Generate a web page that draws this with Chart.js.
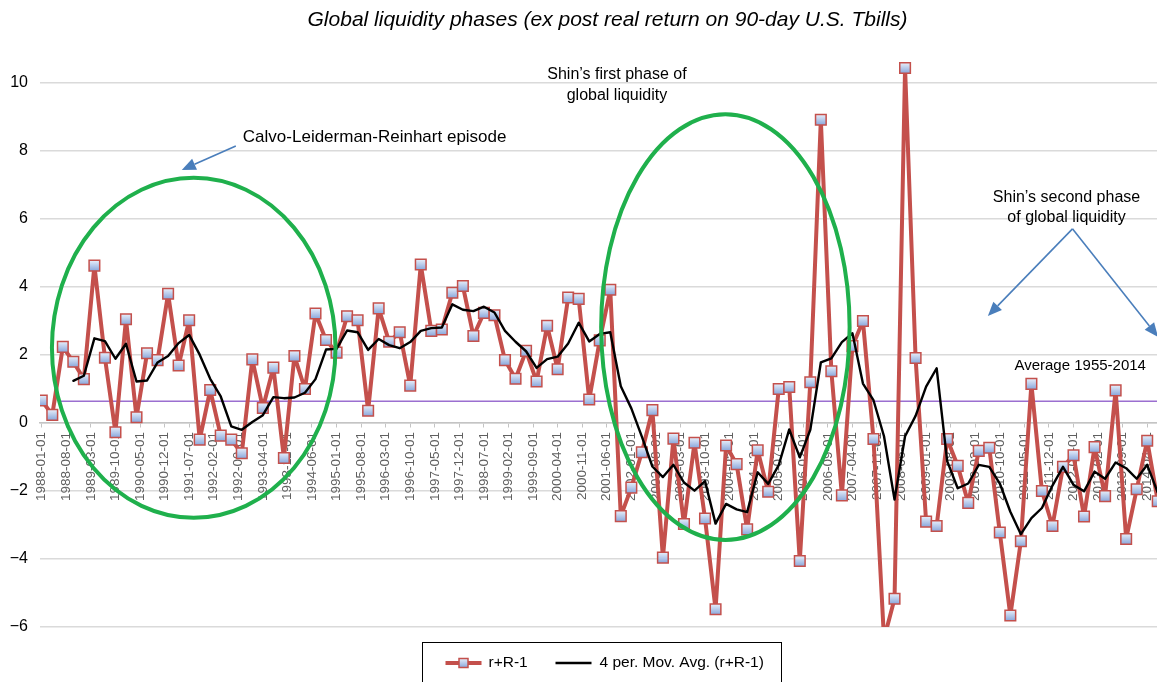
<!DOCTYPE html>
<html><head><meta charset="utf-8">
<script src="https://cdn.jsdelivr.net/npm/chart.js@4.4.1/dist/chart.umd.min.js"></script>
<style>
html,body{margin:0;padding:0;background:#fff;overflow:hidden;width:1157px;height:682px;}
#wrap{position:absolute;left:0;top:0;width:1172px;height:682px;}
</style></head><body>
<div id="wrap"><canvas id="c" width="1172" height="682"></canvas></div>
<script>
// ---------------- data ----------------
const startYear = 1988; // first quarter: 1988-01-01, quarterly observations
const realReturn = [
  0.66, 0.24, 2.24, 1.8, 1.29, 4.63, 1.92, -0.27, 3.05, 0.17,
  2.05, 1.85, 3.8, 1.69, 3.02, -0.49, 0.97, -0.37, -0.49, -0.89,
  1.87, 0.44, 1.63, -1.03, 1.97, 1.0, 3.22, 2.44, 2.07, 3.14,
  3.02, 0.36, 3.37, 2.39, 2.67, 1.1, 4.66, 2.71, 2.75, 3.83,
  4.03, 2.56, 3.24, 3.17, 1.85, 1.3, 2.12, 1.22, 2.86, 1.58,
  3.69, 3.65, 0.69, 2.43, 3.92, -2.74, -1.9, -0.86, 0.38, -3.96,
  -0.46, -2.97, -0.58, -2.81, -5.48, -0.66, -1.21, -3.13, -0.8, -2.02,
  1.0, 1.06, -4.06, 1.2, 8.92, 1.52, -2.13, 2.26, 3.0, -0.47,
  -6.35, -5.17, 10.44, 1.91, -2.9, -3.03, -0.47, -1.26, -2.35, -0.82,
  -0.73, -3.22, -5.66, -3.48, 1.15, -2.0, -3.03, -1.29, -0.95, -2.75,
  -0.71, -2.15, 0.96, -3.41, -1.95, -0.52, -2.3
];
const movingAvg = [
  null, null, null,
  1.24, 1.39, 2.49, 2.41, 1.89, 2.33, 1.22, 1.25, 1.78, 1.97,
  2.35, 2.59, 2.01, 1.30, 0.78, -0.10, -0.20, 0.03, 0.23, 0.76,
  0.73, 0.75, 0.89, 1.29, 2.16, 2.18, 2.72, 2.67, 2.15, 2.47,
  2.29, 2.20, 2.38, 2.71, 2.79, 2.81, 3.49, 3.33, 3.29, 3.42,
  3.25, 2.71, 2.39, 2.11, 1.62, 1.88, 1.95, 2.34, 2.95, 2.40,
  2.62, 2.67, 1.08, 0.43, -0.40, -1.28, -1.59, -1.23, -1.75, -1.99,
  -1.71, -2.96, -2.38, -2.54, -2.62, -1.45, -1.79, -1.24, -0.19, -1.01,
  -0.20, 1.78, 1.90, 2.38, 2.64, 1.16, 0.67, -0.39, -2.25, -0.39,
  0.21, 1.07, 1.61, -1.12, -1.92, -1.78, -1.23, -1.29, -1.78, -2.61,
  -3.27, -2.80, -2.50, -1.84, -1.29, -1.82, -2.01, -1.43, -1.64, -1.16,
  -1.33, -1.64, -1.23, -2.05
];
const averageValue = 0.64;                 // Average 1955-2014
const averageSpan = ['1988-06-01', '2014-10-01'];
const yTickValues = [-6, -4, -2, 0, 2, 4, 6, 8, 10];
const tickLabels = [
  '1988-01-01','1988-08-01','1989-03-01','1989-10-01','1990-05-01','1990-12-01','1991-07-01',
  '1992-02-01','1992-09-01','1993-04-01','1993-11-01','1994-06-01','1995-01-01','1995-08-01',
  '1996-03-01','1996-10-01','1997-05-01','1997-12-01','1998-07-01','1999-02-01','1999-09-01',
  '2000-04-01','2000-11-01','2001-06-01','2002-01-01','2002-08-01','2003-03-01','2003-10-01',
  '2004-05-01','2004-12-01','2005-07-01','2006-02-01','2006-09-01','2007-04-01','2007-11-01',
  '2008-06-01','2009-01-01','2009-08-01','2010-03-01','2010-10-01','2011-05-01','2011-12-01',
  '2012-07-01','2013-02-01','2013-09-01','2014-04-01'
];
const seriesLabels = ['r+R-1', '4 per. Mov. Avg. (r+R-1)'];
const titleText = 'Global liquidity phases (ex post real return on 90-day U.S. Tbills)';

// ---------------- helpers ----------------
const monthIndex = s => (parseInt(s.slice(0, 4), 10) - startYear) * 12 + parseInt(s.slice(5, 7), 10) - 1;
const quarterDates = realReturn.map((_, i) => {
  const m = i * 3, y = startYear + Math.floor(m / 12), mm = (m % 12) + 1;
  return y + '-' + String(mm).padStart(2, '0') + '-01';
});
const quarterMonths = quarterDates.map(monthIndex);
const tickMonths = tickLabels.map(monthIndex);
const labelByMonth = {};
tickLabels.forEach((l, i) => { labelByMonth[tickMonths[i]] = l; });

const FONT = '"Liberation Sans", Arial, sans-serif';
const RED = '#c4504c';

function markerFill(ctx, y, h) {
  if (!isFinite(y)) return '#b8cce4';
  const g = ctx.createLinearGradient(0, y - h, 0, y + h);
  g.addColorStop(0, '#e6edf9');
  g.addColorStop(1, '#8aa8dc');
  return g;
}

// ---------------- annotations (data coordinates: month index, value) ----------------
const ellipses = [
  { cx: 43.3, cy: 2.21, rx: 40.4, ry: 5.0 },
  { cx: 194.8, cy: 2.82, rx: 35.4, ry: 6.26 }
];
const arrows = [
  { from: [55.3, 8.15], to: [39.9, 7.44] },
  { from: [293.7, 5.71], to: [269.6, 3.15] },
  { from: [293.7, 5.71], to: [318.1, 2.53] }
];
const notes = [
  { text: 'Calvo-Leiderman-Reinhart episode', at: [57.3, 8.41], align: 'left', size: 17 },
  { text: 'Shin\u2019s first phase of', at: [163.9, 10.24], align: 'center', size: 16 },
  { text: 'global liquidity', at: [163.9, 9.62], align: 'center', size: 16 },
  { text: 'Shin\u2019s second phase', at: [292.0, 6.63], align: 'center', size: 16 },
  { text: 'of global liquidity', at: [292.0, 6.04], align: 'center', size: 16 },
  { text: 'Average 1955-2014', at: [295.9, 1.68], align: 'center', size: 15 }
];

const annotPlugin = {
  id: 'annot',
  afterDatasetsDraw(chart) {
    const { ctx } = chart, xs = chart.scales.x, ys = chart.scales.y;
    const px = m => xs.getPixelForValue(m), py = v => ys.getPixelForValue(v);
    ctx.save();
    ctx.strokeStyle = '#1fb04c'; ctx.lineWidth = 4;
    ellipses.forEach(e => {
      ctx.beginPath();
      ctx.ellipse(px(e.cx), py(e.cy), Math.abs(px(e.cx + e.rx) - px(e.cx)), Math.abs(py(e.cy + e.ry) - py(e.cy)), 0, 0, Math.PI * 2);
      ctx.stroke();
    });
    ctx.strokeStyle = '#4a7ebb'; ctx.fillStyle = '#4a7ebb'; ctx.lineWidth = 1.6;
    arrows.forEach(a => {
      const x1 = px(a.from[0]), y1 = py(a.from[1]), x2 = px(a.to[0]), y2 = py(a.to[1]);
      const ang = Math.atan2(y2 - y1, x2 - x1), hl = 14, hw = 6;
      const bx = x2 - hl * Math.cos(ang), by = y2 - hl * Math.sin(ang);
      ctx.beginPath(); ctx.moveTo(x1, y1); ctx.lineTo(bx, by); ctx.stroke();
      ctx.beginPath(); ctx.moveTo(x2, y2);
      ctx.lineTo(bx + hw * Math.sin(ang), by - hw * Math.cos(ang));
      ctx.lineTo(bx - hw * Math.sin(ang), by + hw * Math.cos(ang));
      ctx.closePath(); ctx.fill();
    });
    ctx.fillStyle = '#000'; ctx.textBaseline = 'middle';
    notes.forEach(n => {
      ctx.font = n.size + 'px ' + FONT;
      ctx.textAlign = n.align;
      ctx.fillText(n.text, px(n.at[0]), py(n.at[1]));
    });
    ctx.restore();
  },
  afterDraw(chart) {
    const { ctx, chartArea } = chart;
    ctx.save();
    // title
    ctx.fillStyle = '#000'; ctx.textAlign = 'center'; ctx.textBaseline = 'middle';
    ctx.font = 'italic 21px ' + FONT;
    ctx.fillText(titleText, (chartArea.left + chartArea.right) / 2 + 6, 20);
    // legend box below the plot
    const w = 359, cx = (chartArea.left + chartArea.right) / 2;
    const left = Math.round(cx - w / 2) + 0.5, top = chartArea.bottom + 15.5, ym = top + 20.5;
    ctx.strokeStyle = '#000'; ctx.lineWidth = 1;
    ctx.strokeRect(left, top, w, 60);
    const ds = chart.data.datasets;
    ctx.strokeStyle = ds[1].borderColor; ctx.lineWidth = ds[1].borderWidth;
    ctx.beginPath(); ctx.moveTo(left + 23, ym); ctx.lineTo(left + 59, ym); ctx.stroke();
    const mx = left + 41, s = 9;
    ctx.fillStyle = markerFill(ctx, ym, s / 2);
    ctx.fillRect(mx - s / 2, ym - s / 2, s, s);
    ctx.lineWidth = 1.5; ctx.strokeRect(mx - s / 2, ym - s / 2, s, s);
    ctx.fillStyle = '#000'; ctx.font = '15.5px ' + FONT; ctx.textBaseline = 'middle'; ctx.textAlign = 'left';
    ctx.fillText(ds[1].label, left + 66, ym);
    ctx.strokeStyle = ds[0].borderColor; ctx.lineWidth = ds[0].borderWidth;
    ctx.beginPath(); ctx.moveTo(left + 133, ym); ctx.lineTo(left + 169, ym); ctx.stroke();
    ctx.fillText(ds[0].label, left + 177, ym);
    ctx.restore();
  }
};

// ---------------- chart ----------------
new Chart(document.getElementById('c'), {
  type: 'line',
  data: {
    datasets: [
      {
        label: seriesLabels[1],
        data: movingAvg.map((v, i) => ({ x: quarterMonths[i], y: v })).filter(p => p.y !== null),
        borderColor: '#000', borderWidth: 2.4, pointRadius: 0, tension: 0, order: 0,
        borderJoinStyle: 'round', borderCapStyle: 'round'
      },
      {
        label: seriesLabels[0],
        data: realReturn.map((v, i) => ({ x: quarterMonths[i], y: v })),
        borderColor: RED, borderWidth: 4, tension: 0, order: 1,
        borderJoinStyle: 'round',
        pointStyle: 'rect', pointRadius: 7.5, pointBorderWidth: 1.5, pointBorderColor: RED,
        pointBackgroundColor: c => {
          if (!c.parsed || !c.chart.scales || !c.chart.scales.y) return '#b8cce4';
          const y = c.chart.scales.y.getPixelForValue(c.parsed.y);
          return markerFill(c.chart.ctx, y, 5);
        }
      },
      {
        label: 'Average 1955-2014',
        data: averageSpan.map(d => ({ x: monthIndex(d), y: averageValue })),
        borderColor: '#9b6fd0', borderWidth: 1.6, pointRadius: 0, tension: 0, order: 2
      }
    ]
  },
  options: {
    responsive: false, animation: false, devicePixelRatio: 1,
    layout: { padding: { left: 0, right: 5, top: 49, bottom: 55 } },
    plugins: {
      legend: { display: false }, tooltip: { enabled: false }, title: { display: false }
    },
    scales: {
      x: {
        type: 'linear', min: -0.5, max: 319.5,
        position: { y: 0 },
        afterBuildTicks: s => { s.ticks = tickMonths.map(v => ({ value: v })); },
        afterFit: s => { s.paddingLeft = 0; s.paddingRight = 0; },
        ticks: {
          autoSkip: false, minRotation: 90, maxRotation: 90, padding: 5,
          color: '#5f5f5f', font: { family: FONT, size: 13.5 },
          callback: v => labelByMonth[v] || ''
        },
        grid: { drawOnChartArea: false, drawTicks: true, tickLength: 4, color: '#c4c4c4' },
        border: { display: true, color: '#c4c4c4', width: 1.5 }
      },
      y: {
        type: 'linear', min: -6, max: 11,
        afterBuildTicks: s => { s.ticks = yTickValues.map(v => ({ value: v })); },
        afterFit: s => { s.width = 40; s.paddingTop = 0; s.paddingBottom = 0; },
        ticks: {
          color: '#000', padding: 12, font: { family: FONT, size: 16 },
          callback: v => (v < 0 ? '\u2212' + Math.abs(v) : String(v))
        },
        grid: { color: '#dadada', lineWidth: 1.5, drawTicks: false },
        border: { display: false }
      }
    }
  },
  plugins: [annotPlugin]
});
</script>
</body></html>
